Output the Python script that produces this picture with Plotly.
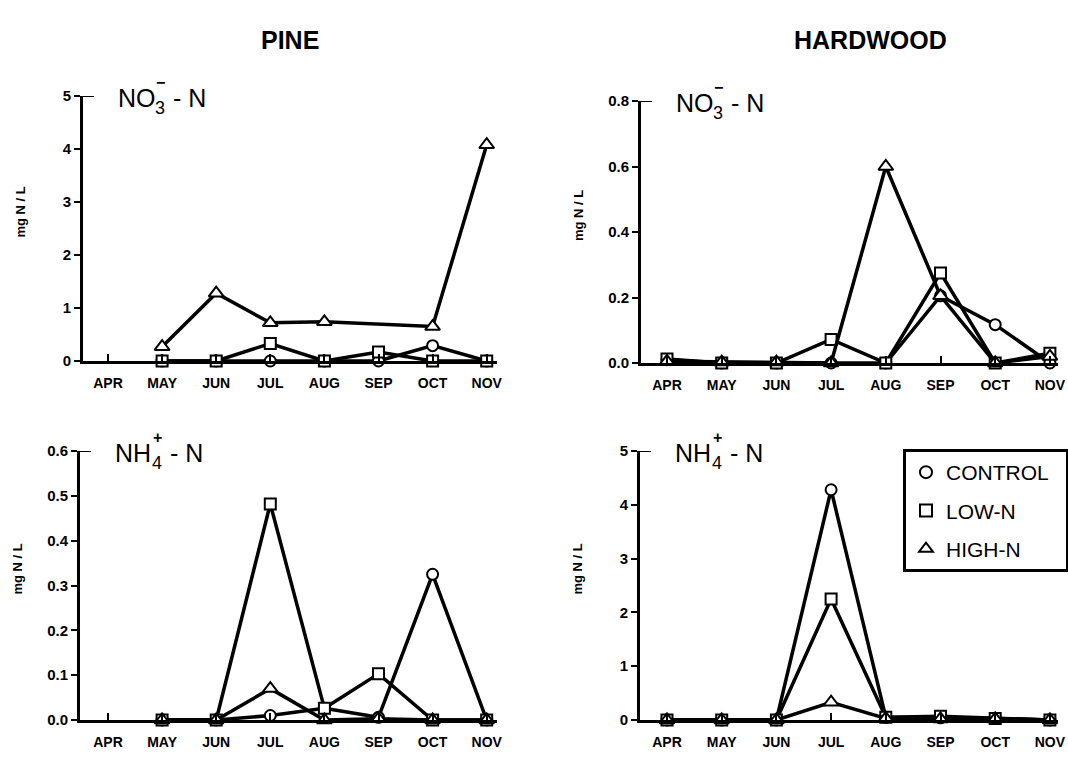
import plotly.graph_objects as go

# ---------------- data ----------------
MONTHS = ["APR", "MAY", "JUN", "JUL", "AUG", "SEP", "OCT", "NOV"]
SERIES = ["CONTROL", "LOW-N", "HIGH-N"]

pine_no3_control = [None, 0, 0, 0, 0, 0, 0.29, 0]
pine_no3_low = [None, 0, 0, 0.33, 0, 0.17, 0, 0]
pine_no3_high = [None, 0.27, 1.28, 0.72, 0.74, None, 0.65, 4.08]

hard_no3_control = [0.010, 0, 0, 0, 0, 0.205, 0.117, 0.0]
hard_no3_low = [0.012, 0, 0, 0.072, 0, 0.275, 0, 0.030]
hard_no3_high = [0.005, 0.003, 0.003, 0, 0.600, 0.205, 0, 0.020]

pine_nh4_control = [None, 0, 0, 0.010, 0.026, 0.006, 0.325, 0]
pine_nh4_low = [None, 0, 0, 0.482, 0.026, 0.103, 0, 0]
pine_nh4_high = [None, 0, 0, 0.070, 0, 0.003, 0, 0]

hard_nh4_control = [0, 0, 0, 4.28, 0.05, 0.04, 0.03, 0]
hard_nh4_low = [0, 0, 0, 2.25, 0.05, 0.07, 0.03, 0]
hard_nh4_high = [0, 0, 0, 0.33, 0.03, 0.02, 0.02, 0]

Y_TICKS_PINE_NO3 = [0, 1, 2, 3, 4, 5]
Y_TICKS_HARD_NO3 = [0.0, 0.2, 0.4, 0.6, 0.8]
Y_TICKS_PINE_NH4 = [0.0, 0.1, 0.2, 0.3, 0.4, 0.5, 0.6]
Y_TICKS_HARD_NH4 = [0, 1, 2, 3, 4, 5]

# ---------------- layout helpers ----------------
W, H = 1068, 757
FONT = "Liberation Sans, Arial, sans-serif"


def px(x):
    return x / W


def py(y):
    return 1 - y / H


SYMBOLS = {"CONTROL": "circle-open", "LOW-N": "square-open", "HIGH-N": "triangle-up-open"}
SIZES = {"CONTROL": 11, "LOW-N": 11, "HIGH-N": 13}

panels = [
    dict(name="x", yname="y", data=[pine_no3_control, pine_no3_low, pine_no3_high],
         x0=83, x1=497, top=96, bot=361, apr=108, step=54.1, yticks=Y_TICKS_PINE_NO3, fmt="d",
         label=("NO", "−", "3")),
    dict(name="x2", yname="y2", data=[hard_no3_control, hard_no3_low, hard_no3_high],
         x0=641, x1=1058, top=101, bot=363, apr=667, step=54.7, yticks=Y_TICKS_HARD_NO3, fmt=".1f",
         label=("NO", "−", "3")),
    dict(name="x3", yname="y3", data=[pine_nh4_control, pine_nh4_low, pine_nh4_high],
         x0=80, x1=497, top=451, bot=720, apr=108, step=54.1, yticks=Y_TICKS_PINE_NH4, fmt=".1f",
         label=("NH", "+", "4")),
    dict(name="x4", yname="y4", data=[hard_nh4_control, hard_nh4_low, hard_nh4_high],
         x0=640, x1=1058, top=451, bot=720, apr=667, step=54.7, yticks=Y_TICKS_HARD_NH4, fmt="d",
         label=("NH", "+", "4")),
]

fig = go.Figure()
layout = dict(
    width=W, height=H, margin=dict(l=0, r=0, t=0, b=0, pad=0, autoexpand=False),
    paper_bgcolor="white", plot_bgcolor="white",
    font=dict(family=FONT, color="black"),
    showlegend=True,
)
annotations = []
shapes = []


def ann(text, x, y, size, xanchor="center", yanchor="middle", angle=0, weight="normal"):
    annotations.append(dict(text=text, x=px(x), y=py(y), xref="paper", yref="paper",
                            xanchor=xanchor, yanchor=yanchor, showarrow=False, textangle=angle,
                            font=dict(family=FONT, size=size, color="black", weight=weight)))


for i, p in enumerate(panels):
    suffix = "" if i == 0 else str(i + 1)
    for s, vals in zip(SERIES, p["data"]):
        fig.add_trace(go.Scatter(
            x=MONTHS, y=vals, mode="lines+markers", connectgaps=True,
            xaxis=p["name"], yaxis=p["yname"], showlegend=False, cliponaxis=False,
            line=dict(color="black", width=3.5),
            marker=dict(symbol=SYMBOLS[s].replace("-open", ""), size=SIZES[s], color="white",
                        line=dict(color="black", width=2)),
        ))
    ymax = max(p["yticks"])
    xr0 = -(p["apr"] - p["x0"]) / p["step"]
    xr1 = (p["x1"] - p["apr"]) / p["step"]
    layout["xaxis" + suffix] = dict(
        domain=[px(p["x0"]), px(p["x1"])], range=[xr0, xr1], type="category",
        anchor=p["yname"], showline=True, linecolor="black", linewidth=3,
        ticks="inside", ticklen=7, tickwidth=2, tickcolor="black",
        ticklabelstandoff=7,
        showgrid=False, zeroline=False, fixedrange=True,
        tickfont=dict(family=FONT, size=14, color="black", weight="bold"),
    )
    layout["yaxis" + suffix] = dict(
        domain=[py(p["bot"]), py(p["top"])], range=[0, ymax],
        anchor=p["name"], showline=True, linecolor="black", linewidth=3,
        ticks="outside", ticklen=6, tickwidth=2, tickcolor="black",
        tickvals=p["yticks"], tickformat=p["fmt"],
        showgrid=False, zeroline=False, fixedrange=True,
        tickfont=dict(family=FONT, size=15, color="black", weight="bold"),
    )
    shapes.append(dict(type="line", xref=p["name"] + " domain", yref=p["yname"],
                       x0=0, x1=11 / (p["x1"] - p["x0"]), y0=ymax, y1=ymax,
                       line=dict(color="black", width=2)))
    # y axis title
    ann("mg N / L", p["x0"] - 63, (p["top"] + p["bot"]) / 2 - 16, 13, angle=-90, weight="bold")
    # panel label (stacked sub/superscript)
    main, sup, sub = p["label"]
    cy = p["top"] + 2
    ann(main, p["x0"] + 33, cy, 25, xanchor="left")
    ann(sup, p["x0"] + 77, cy - 16, 16, weight="bold")
    ann(sub, p["x0"] + 77, cy + 10, 18)
    ann("- N", p["x0"] + 88, cy, 25, xanchor="left")

# column titles
ann("PINE", 290, 40, 25, weight="bold")
ann("HARDWOOD", 870, 40, 25, weight="bold")

# legend-only traces
PAD = {"CONTROL": "&nbsp;&nbsp;", "LOW-N": "", "HIGH-N": ""}
for s in SERIES:
    fig.add_trace(go.Scatter(
        x=[None], y=[None], mode="markers", name=s + PAD[s], legendgroup=s, showlegend=True,
        xaxis="x4", yaxis="y4",
        marker=dict(symbol=SYMBOLS[s], size=12, color="black", line=dict(color="black", width=2)),
    ))

layout["legend"] = dict(
    x=px(903), y=py(449), xanchor="left", yanchor="top",
    bordercolor="black", borderwidth=3, bgcolor="white",
    font=dict(family=FONT, size=21, color="black"),
    tracegroupgap=8, itemsizing="constant",
)
layout["annotations"] = annotations
layout["shapes"] = shapes
fig.update_layout(**layout)

fig.write_html("out.html", config={"displayModeBar": False},
               post_script="document.body.style.margin='0';")
